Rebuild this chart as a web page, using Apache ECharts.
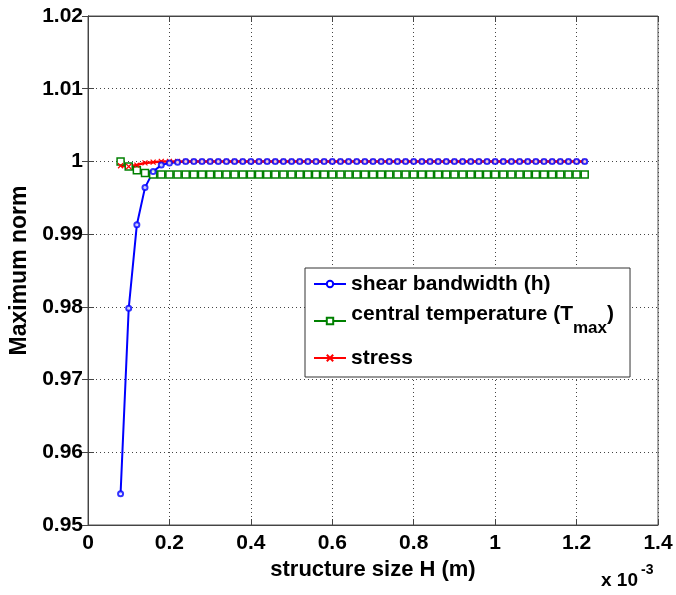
<!DOCTYPE html>
<html><head><meta charset="utf-8">
<script src="https://cdn.jsdelivr.net/npm/echarts@6/dist/echarts.min.js"></script>
<style>html,body{margin:0;padding:0;background:#fff}#c{width:676px;height:595px}</style>
</head><body><div id="c"></div>
<script>
// x in units of 1e-3 m
var xValues = [0.08,0.10,0.12,0.14,0.16,0.18,0.20,0.22,0.24,0.26,0.28,0.30,0.32,0.34,0.36,0.38,0.40,0.42,0.44,0.46,0.48,0.50,0.52,0.54,0.56,0.58,0.60,0.62,0.64,0.66,0.68,0.70,0.72,0.74,0.76,0.78,0.80,0.82,0.84,0.86,0.88,0.90,0.92,0.94,0.96,0.98,1.00,1.02,1.04,1.06,1.08,1.10,1.12,1.14,1.16,1.18,1.20,1.22];
var shearHead = [0.9543,0.9798,0.9913,0.9964,0.9986,0.9995,0.9998,0.9999];
var tempHead = [1.0000,0.9993,0.9988,0.9984,0.9982,0.9982,0.9982,0.9982];
var stressHead = [0.9994,0.9993,0.9995,0.9998,0.9999,1.0000,1.0000,1.0000];
var shearTail = 1.0000, tempTail = 0.9982, stressTail = 1.0000;
var xTicks = [0,0.2,0.4,0.6,0.8,1,1.2,1.4];
var yTicks = [0.95,0.96,0.97,0.98,0.99,1,1.01,1.02];

function build(head, tail){
  return xValues.map(function(x,i){ return [x, i < head.length ? head[i] : tail]; });
}
var FONT = '"Liberation Sans", Arial, sans-serif';
var chart = echarts.init(document.getElementById('c'), null, {renderer:'canvas'});
var gridLine = {show:true, lineStyle:{color:'#444', type:[1,3], width:1}};
var xMark = 'path://M0,0L10,10M10,0L0,10';
var shearName = 'shear bandwidth (h)';
chart.setOption({
  animation:false,
  backgroundColor:'#fff',
  grid:{left:88, right:18, top:16, bottom:70, show:true, borderColor:'#555', borderWidth:1},
  xAxis:[{
    type:'value', min:xTicks[0], max:xTicks[xTicks.length-1], interval:0.2,
    axisLine:{show:true, onZero:false, lineStyle:{color:'#444'}},
    axisTick:{inside:true, length:6, lineStyle:{color:'#444'}},
    axisLabel:{fontFamily:FONT, fontWeight:'bold', fontSize:21, color:'#000', margin:8,
      formatter:function(v){ return String(parseFloat(v.toFixed(1))); }},
    splitLine:gridLine,
    name:'structure size H (m)', nameLocation:'middle', nameGap:33,
    nameTextStyle:{fontFamily:FONT, fontWeight:'bold', fontSize:22, color:'#000'}
  },{
    type:'value', min:0, max:1.4, interval:0.2, position:'top',
    axisLine:{show:true, lineStyle:{color:'#444'}},
    axisTick:{inside:true, length:6, lineStyle:{color:'#444'}},
    axisLabel:{show:false}, splitLine:{show:false}
  }],
  yAxis:[{
    type:'value', min:yTicks[0], max:yTicks[yTicks.length-1], interval:0.01,
    axisLine:{show:true, onZero:false, lineStyle:{color:'#444'}},
    axisTick:{inside:true, length:6, lineStyle:{color:'#444'}},
    axisLabel:{fontFamily:FONT, fontWeight:'bold', fontSize:21, color:'#000', margin:5,
      formatter:function(v){ return String(parseFloat(v.toFixed(2))); }},
    splitLine:gridLine,
    name:'Maximum norm', nameLocation:'middle', nameGap:51,
    nameTextStyle:{fontFamily:FONT, fontWeight:'bold', fontSize:23, color:'#000'}
  },{
    type:'value', min:0.95, max:1.02, interval:0.01, position:'right',
    axisLine:{show:true, lineStyle:{color:'#444'}},
    axisTick:{inside:true, length:6, lineStyle:{color:'#444'}},
    axisLabel:{show:false}, splitLine:{show:false}
  }],
  legend:{
    orient:'vertical', left:305, top:268,
    backgroundColor:'#fff', borderColor:'#333', borderWidth:1, borderRadius:0,
    padding:[4,16,7,8], itemWidth:32, itemHeight:8, itemGap:5,
    textStyle:{fontFamily:FONT, fontWeight:'bold', fontSize:21, color:'#000', lineHeight:24,
      rich:{
        m:{fontFamily:FONT, fontWeight:'bold', fontSize:21, color:'#000', lineHeight:24, padding:[3,0,0,0], verticalAlign:'top'},
        s:{fontFamily:FONT, fontWeight:'bold', fontSize:17, color:'#000', lineHeight:24, padding:[0,0,4,0], verticalAlign:'bottom'},
        h:{fontSize:1, lineHeight:40, verticalAlign:'top'}
      }},
    formatter:function(name){
      if(name.indexOf('central')===0) return '{h| }{m|central temperature (T}{s|max}{m|)}';
      return name;
    },
    data:[shearName,'central temperature','stress']
  },
  graphic:[{
    type:'text', left:601, top:571,
    style:{text:'x 10', font:'bold 19px "Liberation Sans", Arial, sans-serif', fill:'#000'}
  },{
    type:'text', left:641, top:563,
    style:{text:'-3', font:'bold 14px "Liberation Sans", Arial, sans-serif', fill:'#000'}
  }],
  series:[{
    name:shearName, type:'line', data:build(shearHead, shearTail),
    symbol:'emptyCircle', symbolSize:5, showSymbol:false,
    lineStyle:{color:'#0000ff', width:2}, itemStyle:{color:'#0000ff', borderColor:'#0000ff', borderWidth:1.5}
  },{
    name:'central temperature', type:'line', data:build(tempHead, tempTail),
    symbol:'rect', symbolSize:7, showAllSymbol:true,
    lineStyle:{color:'#008000', width:2}, itemStyle:{color:'#fff', borderColor:'#008000', borderWidth:1.5}
  },{
    name:'stress', type:'line', data:build(stressHead, stressTail),
    symbol:xMark, symbolSize:5, showAllSymbol:true,
    lineStyle:{color:'#ff0000', width:2.5}, itemStyle:{color:'#ff0000', borderColor:'#ff0000', borderWidth:1.2}
  },{
    name:shearName, type:'scatter', data:build(shearHead, shearTail), z:4,
    symbol:'emptyCircle', symbolSize:5,
    itemStyle:{color:'#0000ff', borderColor:'#0000ff', borderWidth:1.5}
  }]
});
</script></body></html>
